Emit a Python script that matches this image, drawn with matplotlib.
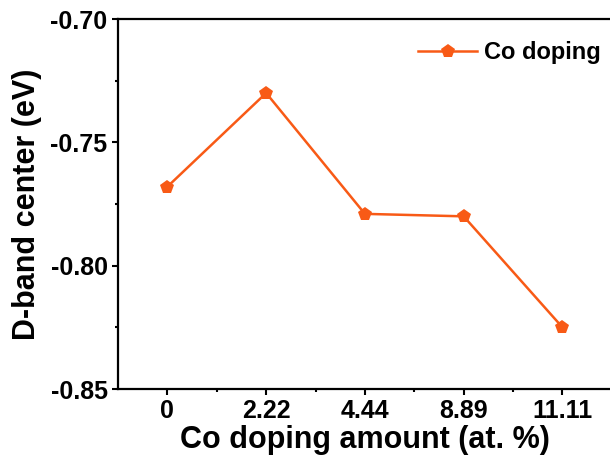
import matplotlib
matplotlib.use("Agg")
import matplotlib.pyplot as plt
from matplotlib.ticker import MultipleLocator, FixedLocator

plt.rcParams['font.family'] = ['Liberation Sans', 'DejaVu Sans']
plt.rcParams['font.weight'] = 'bold'

categories = ['0', '2.22', '4.44', '8.89', '11.11']
d_band_center = [-0.768, -0.730, -0.779, -0.780, -0.825]
series_label = 'Co doping'
color = '#F85A16'

fig = plt.figure(figsize=(6.10, 4.68), dpi=100)
ax = fig.add_axes([0.1934, 0.1688, 0.8096, 0.7906])

xs = list(range(1, len(categories) + 1))
ax.plot(xs, d_band_center, color=color, lw=1.8, marker='p', ms=10.5,
        markeredgewidth=0, label=series_label)

ax.set_xlim(0.5, len(categories) + 0.5)
ax.set_ylim(-0.85, -0.70)
ax.set_xticks(xs)
ax.set_xticklabels(categories)
ax.xaxis.set_minor_locator(FixedLocator([x + 0.5 for x in xs]))
ax.yaxis.set_major_locator(MultipleLocator(0.05))
ax.yaxis.set_minor_locator(MultipleLocator(0.025))
ax.yaxis.set_major_formatter(matplotlib.ticker.FormatStrFormatter('%.2f'))

for s in ax.spines.values():
    s.set_linewidth(1.6)
ax.spines['right'].set_visible(False)

ax.tick_params(which='major', direction='out', length=4.5, width=1.5,
               labelsize=18, pad=3)
ax.tick_params(which='minor', direction='out', length=2.5, width=1.5)
for lbl in ax.get_xticklabels() + ax.get_yticklabels():
    lbl.set_fontweight('bold')

ax.set_xlabel('Co doping amount (at. %)', fontsize=22, fontweight='bold', labelpad=1)
ax.set_ylabel('D-band center (eV)', fontsize=22, fontweight='bold', labelpad=6)

leg = ax.legend(loc='upper right', bbox_to_anchor=(1.012, 0.985), frameon=False,
                prop={'size': 17, 'weight': 'bold'}, handlelength=2.5,
                handletextpad=0.3, borderaxespad=0.3)

fig.savefig('out.png', dpi=100)
